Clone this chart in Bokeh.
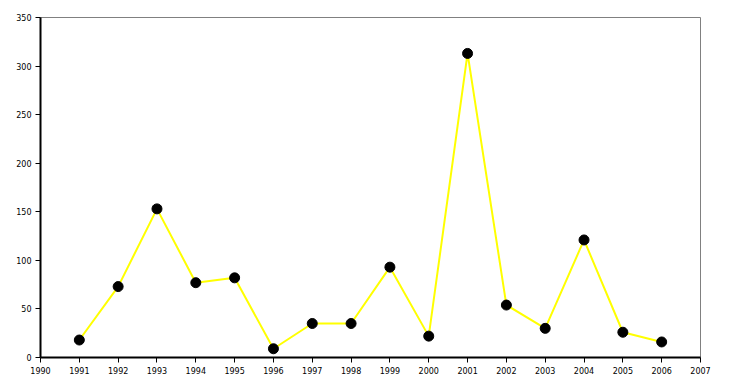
from bokeh.plotting import figure
from bokeh.models import Range1d, FixedTicker
from bokeh.embed import file_html
from bokeh.resources import INLINE

years = [1991, 1992, 1993, 1994, 1995, 1996, 1997, 1998, 1999, 2000, 2001, 2002, 2003, 2004, 2005, 2006]
values = [18, 73, 153, 77, 82, 9, 35, 35, 93, 22, 313, 54, 30, 121, 26, 16]
x_ticks = list(range(1990, 2008))
y_ticks = [0, 50, 100, 150, 200, 250, 300, 350]

p = figure(width=729, height=388, output_backend="svg", toolbar_location=None,
           x_range=Range1d(1990, 2007), y_range=Range1d(0, 350))
p.frame_width = 660
p.frame_height = 340
p.min_border_left = 40
p.min_border_right = 29
p.min_border_top = 17
p.min_border_bottom = 31
p.background_fill_color = "white"
p.border_fill_color = "white"
p.outline_line_color = "#808080"
p.outline_line_width = 1
p.xgrid.visible = False
p.ygrid.visible = False

p.line(years, values, line_color="#FFFF00", line_width=2)
p.scatter(years, values, size=10, fill_color="black", line_color="black")

for ax in (p.xaxis[0], p.yaxis[0]):
    ax.axis_line_color = "black"
    ax.axis_line_width = 2
    ax.major_tick_line_color = "black"
    ax.major_tick_in = 0
    ax.major_tick_out = 5
    ax.minor_tick_line_color = None
    ax.major_label_text_font = "DejaVu Sans"
    ax.major_label_text_font_size = "8px"
    ax.major_label_text_color = "black"
    ax.major_label_standoff = 4

p.xaxis.ticker = FixedTicker(ticks=x_ticks)
p.yaxis.ticker = FixedTicker(ticks=y_ticks)

open("out.html", "w").write(file_html(p, INLINE))
